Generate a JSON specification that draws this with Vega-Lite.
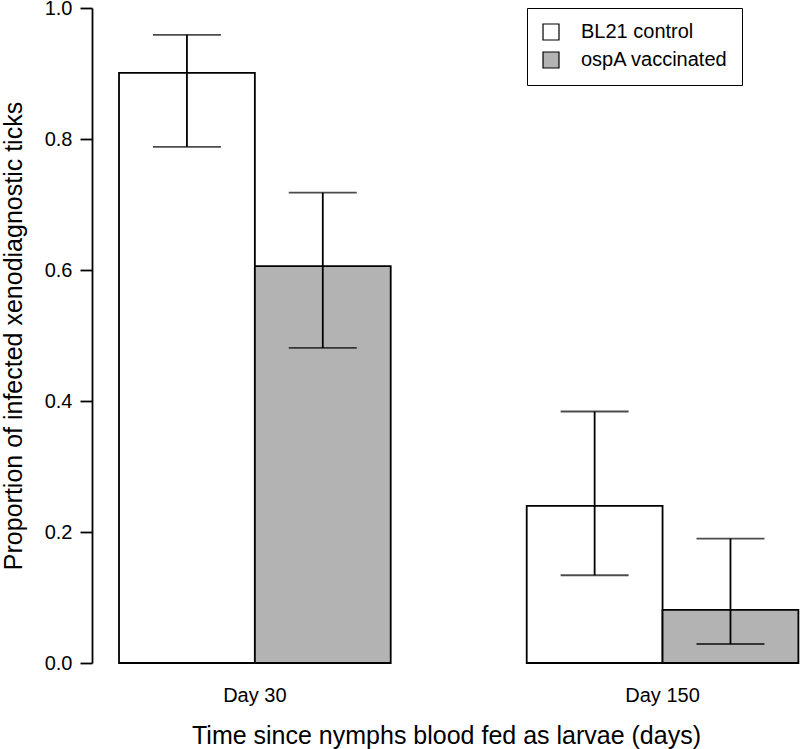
{
  "$schema": "https://vega.github.io/schema/vega-lite/v6.json",
  "width": 708,
  "height": 655,
  "autosize": {"type": "none"},
  "padding": {"left": 92, "top": 8, "right": 0, "bottom": 86},
  "background": "white",
  "config": {"font": "Liberation Sans", "view": {"stroke": null}},
  "data": {
    "values": [
      {"day": "Day 30", "group": "BL21 control", "p": 0.901, "lo": 0.788, "hi": 0.959},
      {"day": "Day 30", "group": "ospA vaccinated", "p": 0.606, "lo": 0.481, "hi": 0.718},
      {"day": "Day 150", "group": "BL21 control", "p": 0.240, "lo": 0.134, "hi": 0.384},
      {"day": "Day 150", "group": "ospA vaccinated", "p": 0.081, "lo": 0.029, "hi": 0.190}
    ]
  },
  "encoding": {
    "x": {
      "field": "day",
      "type": "nominal",
      "sort": ["Day 30", "Day 150"],
      "scale": {"paddingInner": 0.3336, "paddingOuter": 0.0351, "align": 0.944},
      "title": "Time since nymphs blood fed as larvae (days)",
      "axis": {
        "domain": false,
        "ticks": false,
        "labelAngle": 0,
        "labelFontSize": 20,
        "labelColor": "black",
        "labelPadding": 22,
        "titleFontSize": 25,
        "titleFontWeight": "normal",
        "titleColor": "black",
        "titlePadding": 18
      }
    },
    "xOffset": {
      "field": "group",
      "type": "nominal",
      "sort": ["BL21 control", "ospA vaccinated"],
      "scale": {"paddingInner": 0, "paddingOuter": 0}
    }
  },
  "layer": [
    {
      "mark": {"type": "bar", "stroke": "black", "strokeWidth": 1.8},
      "encoding": {
        "y": {
          "field": "p",
          "type": "quantitative",
          "scale": {"domain": [0, 1], "nice": false},
          "title": "Proportion of infected xenodiagnostic ticks",
          "axis": {
            "values": [0, 0.2, 0.4, 0.6, 0.8, 1],
            "format": ".1f",
            "grid": false,
            "domainColor": "black",
            "domainWidth": 1.8,
            "tickColor": "black",
            "tickWidth": 1.8,
            "tickSize": 12,
            "labelFontSize": 20,
            "labelColor": "black",
            "labelPadding": 8,
            "titleFontSize": 25,
            "titleFontWeight": "normal",
            "titleColor": "black",
            "titlePadding": 18
          }
        },
        "fill": {
          "field": "group",
          "type": "nominal",
          "scale": {"domain": ["BL21 control", "ospA vaccinated"], "range": ["white", "#b3b3b3"]},
          "legend": {
            "orient": "none",
            "legendX": 435,
            "legendY": 0,
            "title": null,
            "strokeColor": "black",
            "fillColor": "white",
            "padding": 14,
            "symbolType": "square",
            "symbolSize": 256,
            "symbolStrokeColor": "black",
            "symbolStrokeWidth": 1.2,
            "labelFontSize": 20,
            "labelColor": "black",
            "labelOffset": 20,
            "rowPadding": 6
          }
        }
      }
    },
    {
      "mark": {"type": "rule", "color": "black", "strokeWidth": 1.8},
      "encoding": {
        "y": {"field": "lo", "type": "quantitative"},
        "y2": {"field": "hi"}
      }
    },
    {
      "mark": {"type": "tick", "color": "black", "thickness": 1.8, "size": 68, "orient": "horizontal"},
      "encoding": {
        "y": {"field": "lo", "type": "quantitative"}
      }
    },
    {
      "mark": {"type": "tick", "color": "black", "thickness": 1.8, "size": 68, "orient": "horizontal"},
      "encoding": {
        "y": {"field": "hi", "type": "quantitative"}
      }
    }
  ]
}
